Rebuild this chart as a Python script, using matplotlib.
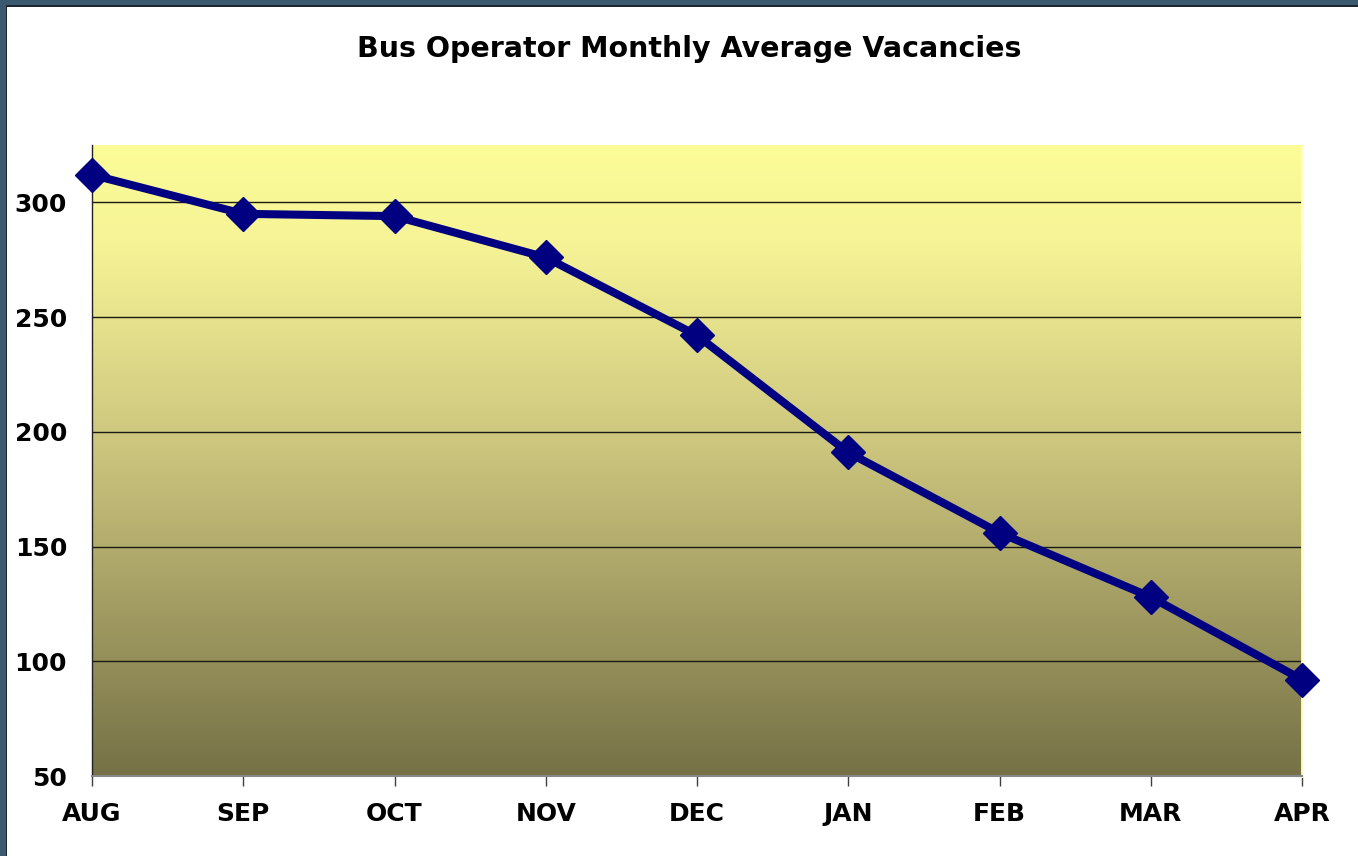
import numpy as np
import matplotlib
matplotlib.use("Agg")
import matplotlib.pyplot as plt
from matplotlib.colors import LinearSegmentedColormap
from matplotlib.patches import Rectangle

months = ["AUG", "SEP", "OCT", "NOV", "DEC", "JAN", "FEB", "MAR", "APR"]
vacancies = [312, 295, 294, 276, 242, 191, 156, 128, 92]
yticks = [50, 100, 150, 200, 250, 300]
title = "Bus Operator Monthly Average Vacancies"

plt.rcParams['font.family'] = ['DejaVu Sans']

W, H = 1358, 856
fig = plt.figure(figsize=(W / 100, H / 100), dpi=100)
fig.patch.set_facecolor("white")

ax = fig.add_axes([92 / W, (H - 776) / H, (1302 - 92) / W, (776 - 145) / H])

# gradient background
cmap = LinearSegmentedColormap.from_list(
    "bg", [(0.0, "#767146"), (0.5, "#c9c27c"), (0.85, "#f6f496"), (1.0, "#fcfc98")])
grad = np.linspace(0, 1, 256).reshape(-1, 1)
ax.imshow(grad, cmap=cmap, origin="lower", aspect="auto",
          extent=[0, 1, 0, 1], transform=ax.transAxes, zorder=0,
          interpolation="bicubic")

x = np.arange(len(months))
ax.set_xlim(0, len(months) - 1)
ax.set_ylim(50, 325)

for y in yticks[1:]:
    ax.axhline(y, color="#1a1a10", lw=1.0, zorder=1)

ax.plot(x, vacancies, color="#000080", lw=5.8, marker="D", markersize=17,
        markerfacecolor="#000080", markeredgecolor="#000080",
        clip_on=False, zorder=3, solid_joinstyle="round")

ax.set_xticks(x)
ax.set_xticklabels(months, fontsize=18, fontweight="bold")
ax.set_yticks(yticks)
ax.set_yticklabels([str(v) for v in yticks], fontsize=18, fontweight="bold")
ax.tick_params(axis="x", length=7, width=1, color="#404040", pad=12)
ax.tick_params(axis="y", length=0, pad=18)

ax.spines["top"].set_visible(False)
ax.spines["right"].set_color("#ffffc8")
ax.spines["right"].set_linewidth(2)
ax.spines["left"].set_color("#222222")
ax.spines["left"].set_linewidth(1)
ax.spines["bottom"].set_color("#888888")
ax.spines["bottom"].set_linewidth(1.5)

fig.text(689 / W, 1 - 49 / H, title, ha="center", va="center",
         fontsize=20.5, fontweight="bold", color="black")

# frame
fig.add_artist(Rectangle((0, 1 - 5 / H), 1, 5 / H, transform=fig.transFigure,
                         facecolor="#3c5a6f", edgecolor="none", zorder=10))
fig.add_artist(Rectangle((0, 1 - 6.5 / H), 1, 1.5 / H, transform=fig.transFigure,
                         facecolor="#1c2530", edgecolor="none", zorder=10))
fig.add_artist(Rectangle((0, 0), 6 / W, 1, transform=fig.transFigure,
                         facecolor="#3c5a6f", edgecolor="none", zorder=10))
fig.add_artist(Rectangle((6 / W, 0), 1.5 / W, 1 - 5 / H, transform=fig.transFigure,
                         facecolor="#1c2530", edgecolor="none", zorder=10))

fig.savefig("out.png", dpi=100)
